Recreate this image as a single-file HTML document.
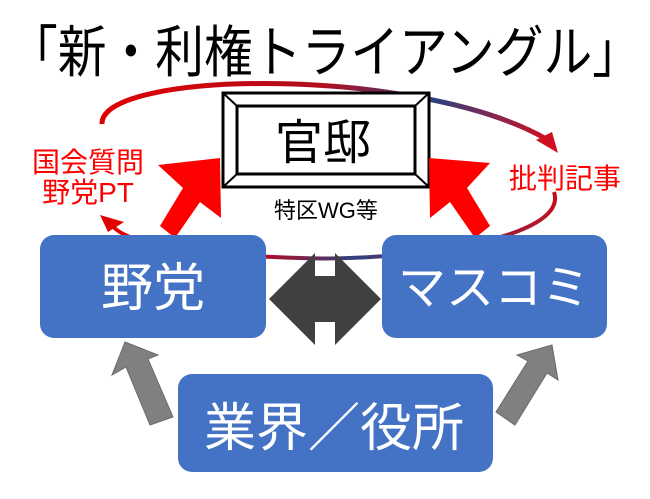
<!DOCTYPE html>
<html><head><meta charset="utf-8"><style>
html,body{margin:0;padding:0;background:#fff;}
svg{display:block;}
text{font-family:"Liberation Sans","Noto Sans CJK JP",sans-serif;}
</style></head><body>
<svg width="650" height="499" viewBox="0 0 650 499" xmlns="http://www.w3.org/2000/svg">
<defs>
<linearGradient id="g1" x1="0" y1="0" x2="1" y2="0">
<stop offset="0" stop-color="#e00000"/><stop offset="0.5" stop-color="#b01020"/><stop offset="0.75" stop-color="#304080"/><stop offset="1" stop-color="#d01020"/>
</linearGradient>
<linearGradient id="g2" x1="1" y1="0" x2="0" y2="0">
<stop offset="0" stop-color="#c01020"/><stop offset="0.45" stop-color="#304080"/><stop offset="0.7" stop-color="#d00010"/><stop offset="1" stop-color="#e00000"/>
</linearGradient>
</defs>
<text x="325" y="72" font-size="56" text-anchor="middle" textLength="632" lengthAdjust="spacingAndGlyphs">「新・利権トライアングル」</text>

<!-- top arc -->
<path d="M102,124 C100,70 420,65 548,140" fill="none" stroke="url(#g1)" stroke-width="5"/>
<polygon points="558,153 536,140 552,132" fill="#d01020"/>
<!-- bottom arc -->
<path d="M554,192 C570,240 400,262 300,258 C200,255 120,245 110,222" fill="none" stroke="url(#g2)" stroke-width="4"/>
<polygon points="100,215 124,222 108,232" fill="#e00000"/>

<!-- 官邸 box -->
<rect x="223" y="93" width="206" height="94" fill="#fff" stroke="#000" stroke-width="3"/>
<rect x="237" y="106" width="178" height="68" fill="none" stroke="#000" stroke-width="3"/>
<line x1="223" y1="93" x2="237" y2="106" stroke="#000" stroke-width="2"/>
<line x1="429" y1="93" x2="415" y2="106" stroke="#000" stroke-width="2"/>
<line x1="223" y1="187" x2="237" y2="174" stroke="#000" stroke-width="2"/>
<line x1="429" y1="187" x2="415" y2="174" stroke="#000" stroke-width="2"/>
<text x="323" y="159" font-size="48" text-anchor="middle">官邸</text>
<text x="326" y="218" font-size="22" text-anchor="middle">特区WG等</text>

<!-- red texts -->
<text x="88" y="172" font-size="28" fill="#ff0000" text-anchor="middle">国会質問</text>
<text x="88" y="202" font-size="28" fill="#ff0000" text-anchor="middle">野党PT</text>
<text x="565" y="188" font-size="28" fill="#ff0000" text-anchor="middle">批判記事</text>

<!-- red arrows -->
<polygon points="220,158 221,218 200,202 175,238 160,226 183,188 158,165" fill="#ff0000"/>
<polygon points="429,158 490,163 467,188 490,226 475,238 450,202 430,218" fill="#ff0000"/>

<!-- blue boxes -->
<rect x="40" y="235" width="226" height="103" rx="14" fill="#4472c4"/>
<rect x="382" y="235" width="225" height="103" rx="14" fill="#4472c4"/>
<rect x="178" y="374" width="315" height="98" rx="14" fill="#4472c4"/>
<text x="153" y="306" font-size="52" fill="#fff" text-anchor="middle">野党</text>
<text x="494" y="304" font-size="48" fill="#fff" text-anchor="middle">マスコミ</text>
<text x="334" y="446" font-size="52" fill="#fff" text-anchor="middle">業界／役所</text>

<!-- double arrow -->
<polygon points="269,299 315,253 315,276 335,276 335,253 381,299 335,345 335,322 315,322 315,345" fill="#404040"/>

<!-- gray arrows -->
<polygon points="125,342 158,355 148,359 173,417 150,425 126,367 112,375" fill="#808080" stroke="#6a6a6a" stroke-width="1"/>
<polygon points="552,345 558,380 547,373 515,425 496,412 528,361 517,355" fill="#808080" stroke="#6a6a6a" stroke-width="1"/>
</svg>
</body></html>
